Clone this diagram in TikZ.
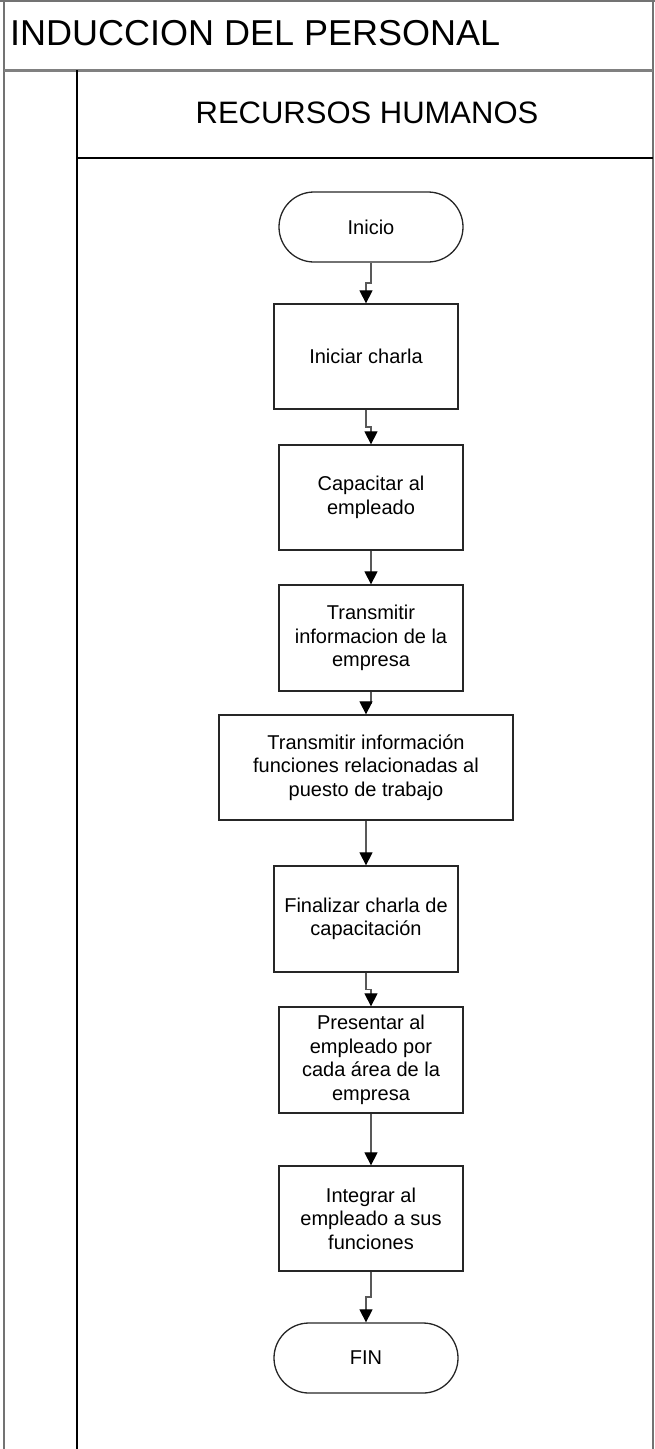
\documentclass[tikz,border=0pt]{standalone}
\usepackage{fontspec}
\setmainfont{Liberation Sans}
\usetikzlibrary{arrows.meta,calc}
\begin{document}
\begin{tikzpicture}[x=1pt,y=-1pt,
  stepbox/.style={draw=black!85, line width=1.3pt, minimum width=184pt,
    minimum height=105pt, align=center, inner sep=0pt,
    font=\fontsize{20}{23.5}\selectfont},
  term/.style={stepbox, minimum height=70pt, rounded corners=35pt},
  conn/.style={draw=black!65, line width=1.2pt,
    -{Triangle[width=13pt,length=13pt,black]}},
  border/.style={draw=black!55, line width=2pt},
  lane/.style={draw=black, line width=1.3pt},
  heading/.style={inner sep=0pt}]
\useasboundingbox (0,0) rectangle (655,1449);

% pool frame and title band
\draw[border] (4,0) -- (4,1449);
\draw[border] (653,0) -- (653,1449);
\draw[border] (0,1) -- (655,1);
\draw[draw=black!50, line width=3pt] (4,70) -- (653,70);
\node[heading, anchor=base west, font=\fontsize{36}{40}\selectfont] (pool) at (10,45) {INDUCCION DEL PERSONAL};

% swimlane
\draw[lane] (77,70) -- (77,1449);
\draw[lane] (77,158) -- (653,158);
\node[heading, anchor=base, font=\fontsize{31}{36}\selectfont] (lanehead) at (367,123) {RECURSOS HUMANOS};

% process steps
\node[term] (inicio) at (371,227) {Inicio};
\node[stepbox] (s1) at (366,356.5) {Iniciar charla};
\node[stepbox] (s2) at (371,497.5) {Capacitar al\\empleado};
\node[stepbox, minimum height=106pt] (s3) at (371,638) {Transmitir\\informacion de la\\empresa};
\node[stepbox, minimum width=294pt] (s4) at (366,767.5) {Transmitir información\\funciones relacionadas al\\puesto de trabajo};
\node[stepbox, minimum height=106pt] (s5) at (366,919) {Finalizar charla de\\capacitación};
\node[stepbox, minimum height=106pt] (s6) at (371,1060) {Presentar al\\empleado por\\cada área de la\\empresa};
\node[stepbox] (s7) at (371,1218.5) {Integrar al\\empleado a sus\\funciones};
\node[term] (fin) at (366,1358) {FIN};

% connectors with a small jog halfway
\foreach \a/\b in {inicio/s1, s1/s2, s2/s3, s3/s4, s4/s5, s5/s6, s6/s7, s7/fin}
  \draw[conn] (\a.south) |- ($(\a.south)!.5!(\b.north)$) -| (\b.north);
\end{tikzpicture}
\end{document}
